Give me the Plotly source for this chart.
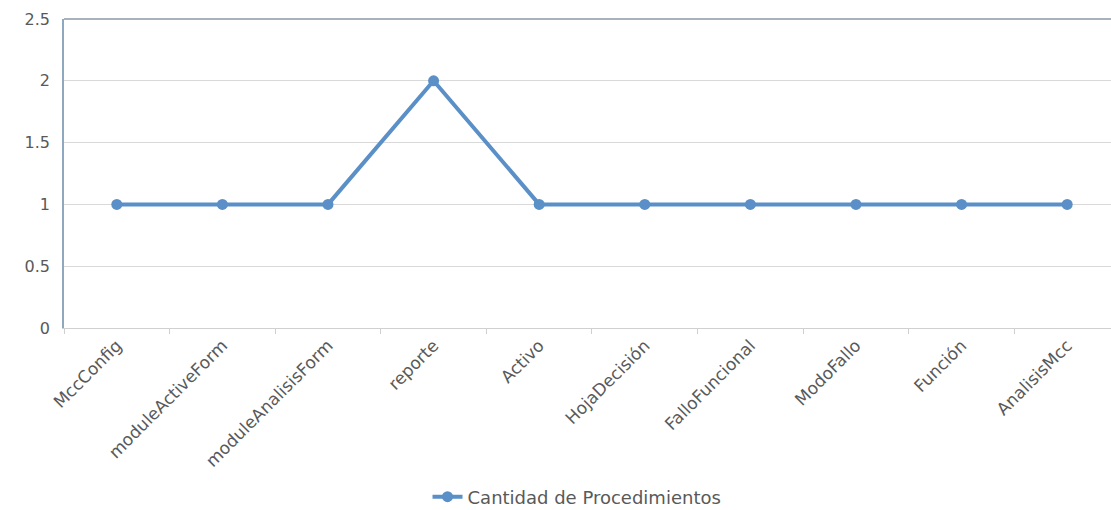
import plotly.graph_objects as go

categories = ["MccConfig", "moduleActiveForm", "moduleAnalisisForm", "reporte", "Activo",
              "HojaDecisión", "FalloFuncional", "ModoFallo", "Función", "AnalisisMcc"]
values = [1, 1, 1, 2, 1, 1, 1, 1, 1, 1]
series_name = "Cantidad de Procedimientos"

font_family = "DejaVu Sans, sans-serif"
text_color = "#595959"
line_color = "#5B8FC7"

fig = go.Figure()
fig.add_trace(go.Scatter(
    x=categories, y=values, name=series_name, mode="lines+markers",
    line=dict(color=line_color, width=4),
    marker=dict(color=line_color, size=11),
))

fig.update_layout(
    width=1111, height=510,
    margin=dict(l=64, r=0, t=19, b=182, autoexpand=False),
    paper_bgcolor="white", plot_bgcolor="white",
    font=dict(family=font_family, size=16, color=text_color),
    showlegend=True,
    legend=dict(orientation="h", x=0.49, xanchor="center", y=-0.547, yanchor="middle",
                font=dict(size=18, color=text_color)),
    xaxis=dict(type="category", range=[-0.5, 9.415], tickangle=-45, automargin=False,
               showgrid=False, showline=True, linecolor="#D0D0D0", linewidth=1,
               ticks="outside", tickson="boundaries", ticklen=5, tickcolor="#D0D0D0",
               tickfont=dict(size=17, color=text_color), zeroline=False),
    yaxis=dict(range=[0, 2.5], dtick=0.5, showgrid=True, gridcolor="#D9D9D9", gridwidth=1,
               automargin=False,
               showline=True, linecolor="#8FA8C0", linewidth=1.5, zeroline=False,
               tickfont=dict(size=16, color=text_color), ticks="", ticklabelstandoff=9),
    shapes=[dict(type="line", xref="paper", yref="paper", x0=0, x1=1, y0=1, y1=1,
                 line=dict(color="#8C99A6", width=1.5))],
)

fig.write_html("out.html")
